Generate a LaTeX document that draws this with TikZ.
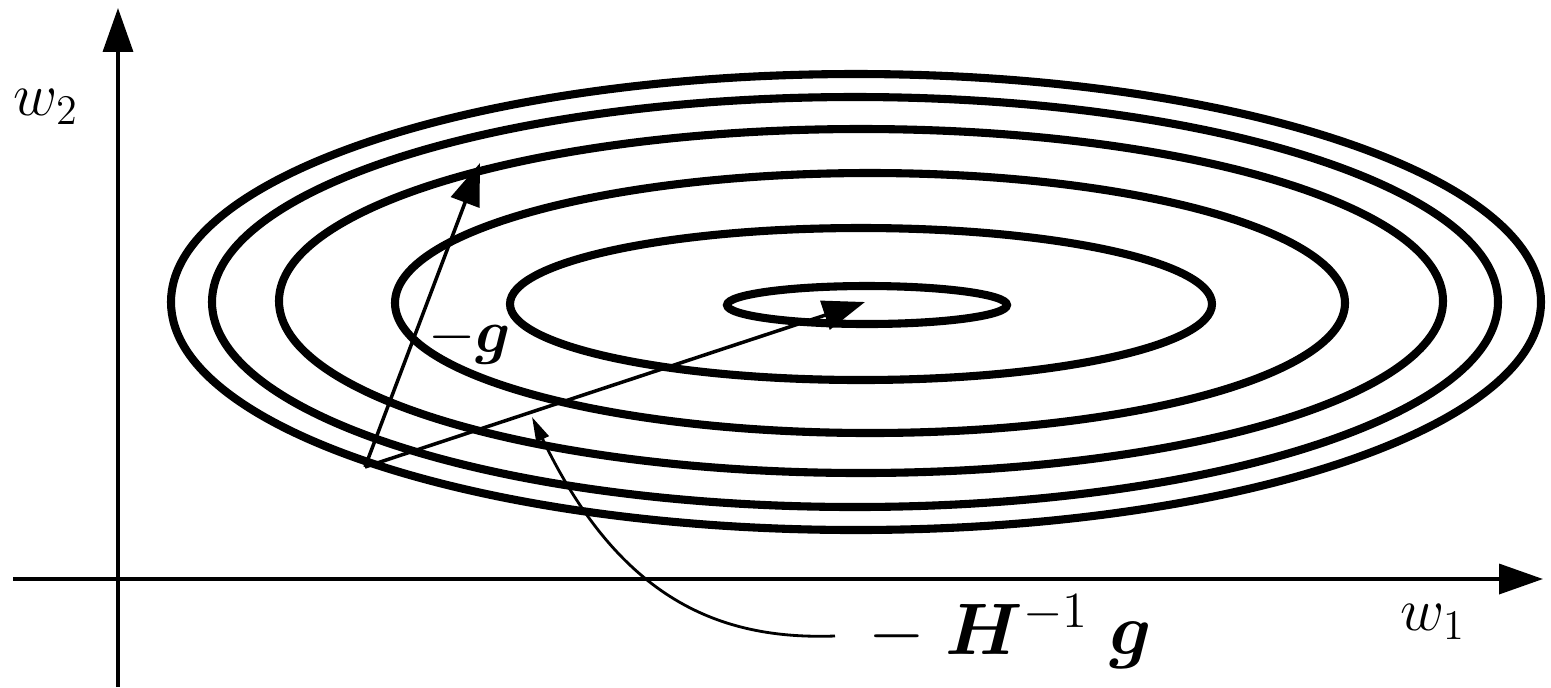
\documentclass[tikz,border=0pt]{standalone}
\usepackage{amsmath,bm}
\usetikzlibrary{arrows.meta}
\begin{document}
\begin{tikzpicture}[
    x=0.01cm, y=-0.01cm,
    font=\fontsize{17.28}{21}\selectfont,
    contour/.style={line width=2.3pt},
    axisline/.style={line width=1.1pt, -{Triangle[length=12.5pt, width=8.5pt]}},
    stepvec/.style={line width=1pt, -{Triangle[length=12pt, width=8.5pt]}},
    pointer/.style={line width=0.8pt, -{Triangle[length=7pt, width=3.8pt]}},
    lbl/.style={inner sep=0pt, anchor=base}
]
\useasboundingbox (0,0) rectangle (1551,687);

% Contours of the error surface
\foreach \cx/\cy/\rx/\ry in {856/302/685/228, 855/302/643/205, 861/301/582/172, 870/303/475/130, 861/304/351/76, 867/305/140/19}
  \draw[contour] (\cx,\cy) ellipse [x radius=\rx, y radius=\ry];

% Axes
\coordinate (ybottom) at (118,687);
\coordinate (ytop) at (118,8);
\coordinate (xleft) at (13,579);
\coordinate (xright) at (1543,579);
\draw[axisline] (ybottom) -- (ytop);
\draw[axisline] (xleft) -- (xright);
\node[lbl] (wtwo) at (46,115) {$w_2$};
\node[lbl] (wone) at (1433,630) {$w_1$};

% Steps from the current point
\coordinate (wcur) at (365,467);
\coordinate (gtip) at (480,163);
\coordinate (wmin) at (865,302);
\draw[stepvec] (wcur) -- (gtip);
\draw[stepvec] (wcur) -- (wmin);
\node[lbl] (glabel) at (470,352) {$-\bm{g}$};

% Newton step label
\node[lbl, anchor=base west, font=\fontsize{20.74}{24}\selectfont] (hlabel) at (868,654) {$-\;\bm{H}^{-1}\;\bm{g}$};
\coordinate (hfrom) at (835,636);
\coordinate (hto) at (532,417);
\draw[pointer] (hfrom) .. controls (720,640) and (620,600) .. (hto);

\end{tikzpicture}
\end{document}
